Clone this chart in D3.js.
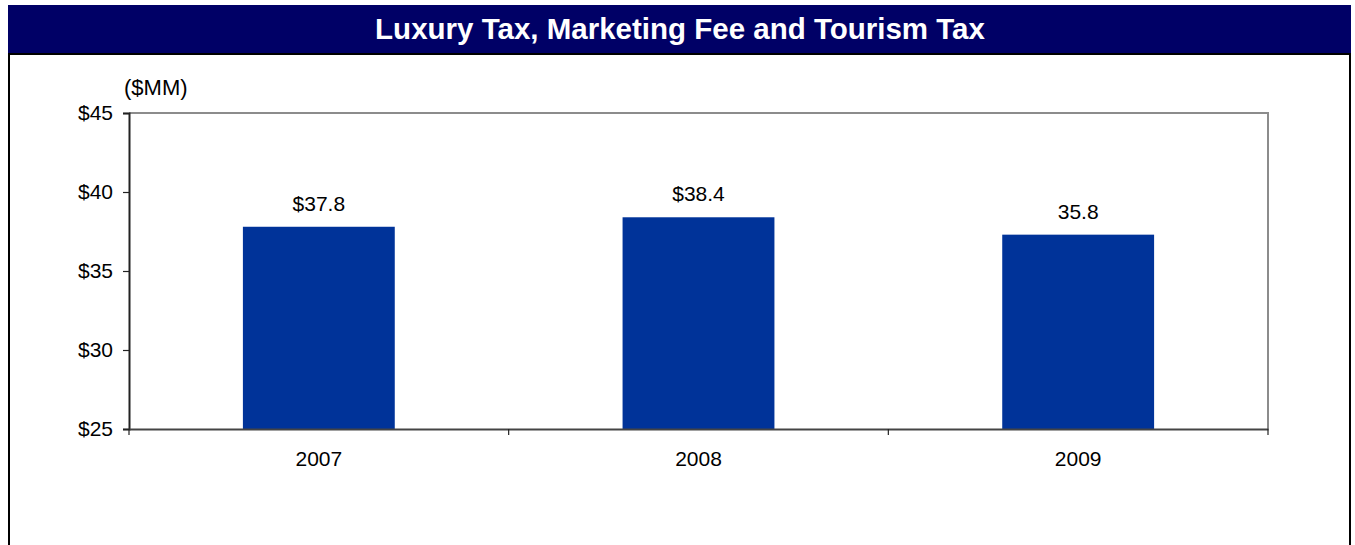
<!DOCTYPE html>
<html>
<head>
<meta charset="utf-8">
<script src="https://cdn.jsdelivr.net/npm/d3@7"></script>
<style>
  html, body { margin: 0; padding: 0; background: #fff; }
  svg { display: block; font-family: Arial, "Liberation Sans", sans-serif; }
</style>
</head>
<body>
<svg id="chart" width="1355" height="545"></svg>
<script>
// ---- data ----
const title = "Luxury Tax, Marketing Fee and Tourism Tax";
const unitLabel = "($MM)";
const categories = ["2007", "2008", "2009"];
const values = [37.8, 38.4, 37.3];
const valueLabels = ["$37.8", "$38.4", "35.8"];
const yTicks = [25, 30, 35, 40, 45];
const yDomain = [25, 45];

// ---- layout ----
const svg = d3.select("#chart");
const W = 1355, H = 545;
const plot = { left: 129, right: 1268, top: 113, bottom: 429 };

// frame
svg.append("rect").attr("x", 9).attr("y", 54).attr("width", 1341).attr("height", H)
  .attr("fill", "#fff").attr("stroke", "#000").attr("stroke-width", 2);
// title bar
svg.append("rect").attr("x", 8).attr("y", 5).attr("width", 1343).attr("height", 48)
  .attr("fill", "#000066");
svg.append("text").attr("x", 680).attr("y", 39).attr("text-anchor", "middle")
  .attr("fill", "#fff").attr("font-weight", "bold").attr("font-size", 29.5)
  .text(title);

const x = d3.scaleBand().domain(categories).range([plot.left, plot.right]).paddingInner(0).paddingOuter(0);
const y = d3.scaleLinear().domain(yDomain).range([plot.bottom, plot.top]);

// plot area top/right border (gray)
svg.append("path")
  .attr("d", `M${plot.left},${y(45)}H${plot.right}V${plot.bottom}`)
  .attr("fill", "none").attr("stroke", "#8c8c8c").attr("stroke-width", 2);

// bars
const barW = x.bandwidth() * 0.4;
svg.append("g").selectAll("rect").data(values).join("rect")
  .attr("x", (d, i) => x(categories[i]) + (x.bandwidth() - barW) / 2)
  .attr("width", barW)
  .attr("y", d => y(d))
  .attr("height", d => y(yDomain[0]) - y(d))
  .attr("fill", "#003399");

// value labels
svg.append("g").selectAll("text").data(values).join("text")
  .attr("x", (d, i) => x(categories[i]) + x.bandwidth() / 2)
  .attr("y", d => y(d) - 16)
  .attr("text-anchor", "middle").attr("font-size", 21).attr("fill", "#000")
  .text((d, i) => valueLabels[i]);

// y axis
const yAxis = d3.axisLeft(y).tickValues(yTicks).tickSize(6).tickPadding(10)
  .tickFormat(d => "$" + d);
const gy = svg.append("g").attr("transform", `translate(${plot.left},0)`).call(yAxis);
gy.select(".domain").attr("stroke", "#222").attr("stroke-width", 2);
gy.selectAll(".tick line").attr("stroke", "#222").attr("stroke-width", 1.2);
gy.selectAll(".tick text").attr("font-size", 21).attr("fill", "#000")
  .attr("font-family", "Arial, 'Liberation Sans', sans-serif");

// x axis
const xAxis = d3.axisBottom(x).tickSize(0).tickPadding(22);
const gx = svg.append("g").attr("transform", `translate(0,${plot.bottom})`).call(xAxis);
gx.select(".domain").attr("stroke", "#444").attr("stroke-width", 2);
gx.selectAll(".tick text").attr("font-size", 21).attr("fill", "#000")
  .attr("font-family", "Arial, 'Liberation Sans', sans-serif");
// category boundary ticks
const bounds = categories.map(c => x(c)).concat([x(categories[categories.length - 1]) + x.bandwidth()]);
svg.append("g").selectAll("line").data(bounds).join("line")
  .attr("x1", d => d).attr("x2", d => d)
  .attr("y1", plot.bottom).attr("y2", plot.bottom + 6)
  .attr("stroke", "#222").attr("stroke-width", 1.2);

// unit label
svg.append("text").attr("x", 124).attr("y", 95).attr("font-size", 22).attr("fill", "#000")
  .text(unitLabel);
</script>
</body>
</html>
